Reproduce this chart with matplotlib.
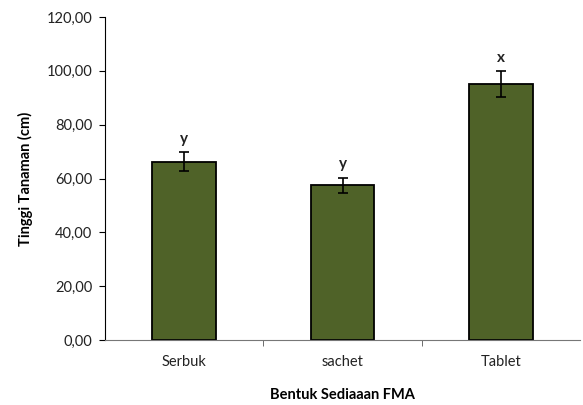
import numpy as np
import matplotlib.pyplot as plt
from matplotlib.ticker import FuncFormatter

plt.rcParams['font.family'] = ['Lato', 'DejaVu Sans']

categories = ['Serbuk', 'sachet', 'Tablet']
heights = [66.2, 57.5, 95.0]
errors = [3.5, 2.8, 4.8]
letters = ['y', 'y', 'x']

fig = plt.figure(figsize=(5.83, 4.05), dpi=100)
ax = fig.add_axes([0.18, 0.16, 0.815, 0.798])

x = np.arange(len(categories))
ax.bar(x, heights, width=0.4, color='#4f6228', edgecolor='black', linewidth=1.3,
       yerr=errors, capsize=3.5, error_kw={'elinewidth': 1.2, 'capthick': 1.2, 'ecolor': 'black'})
for xi, h, e, t in zip(x, heights, errors, letters):
    ax.text(xi, h + e + 2.5, t, ha='center', va='bottom', fontsize=11, fontweight='bold', color='#222222')

ax.set_xlim(-0.5, 2.5)
ax.set_ylim(0, 120)
ax.set_yticks(np.arange(0, 121, 20))
ax.yaxis.set_major_formatter(FuncFormatter(lambda v, p: f'{v:.2f}'.replace('.', ',')))
ax.set_xticks(x)
ax.set_xticklabels(categories)
ax.set_xticks([0.5, 1.5], minor=True)
ax.tick_params(axis='x', which='major', length=0, pad=11, labelsize=10.5, labelcolor='#222222')
ax.tick_params(axis='x', which='minor', length=4, direction='out', color='#555555')
ax.tick_params(axis='y', length=4, direction='out', labelsize=10.5, pad=5, labelcolor='#222222')

ax.spines['top'].set_visible(False)
ax.spines['right'].set_visible(False)
ax.spines['bottom'].set_color('#777777')

ax.set_ylabel('Tinggi Tanaman (cm)', fontsize=10.5, fontweight='bold', labelpad=10)
ax.set_xlabel('Bentuk Sediaaan FMA', fontsize=10.5, fontweight='bold', labelpad=13)

fig.savefig('out.png', dpi=100)
